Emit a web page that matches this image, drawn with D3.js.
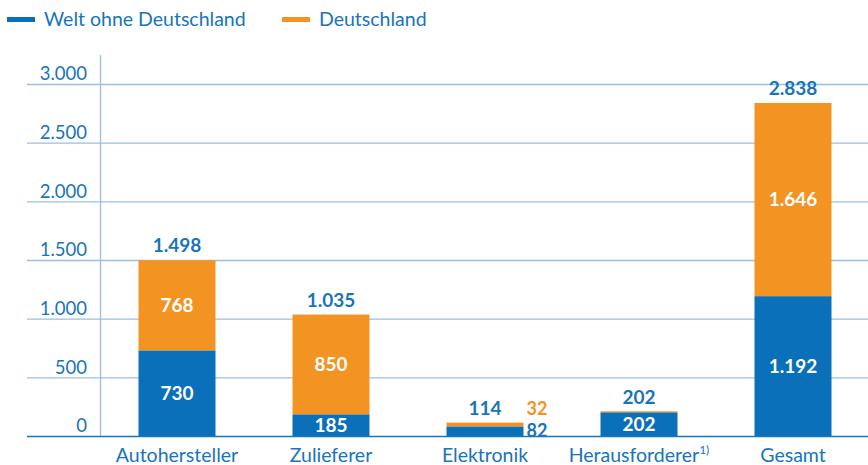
<!doctype html>
<html>
<head>
<meta charset="utf-8" />
<title>Welt ohne Deutschland / Deutschland</title>
<script src="https://cdn.jsdelivr.net/npm/d3@7"></script>
<style>
  body { margin: 0; background: #fff; }
  text { font-family: "Source Sans Pro", Lato, "Noto Sans", sans-serif; }
</style>
</head>
<body>
<div id="chart"></div>
<script>
// data
var categories = ['Autohersteller', 'Zulieferer', 'Elektronik', 'Herausforderer', 'Gesamt'];
var welt = [730, 185, 82, 202, 1192];
var deutschland = [768, 850, 32, 0, 1646];
var totals = [1498, 1035, 114, 202, 2838];
var yTicks = [0, 500, 1000, 1500, 2000, 2500, 3000];
var seriesNames = ['Welt ohne Deutschland', 'Deutschland'];

var blue = '#0a70b9', orange = '#f39322', textBlue = '#1874bb', grid = '#9cbde6';

var W = 868, H = 465;
var de = d3.formatLocale({decimal: ',', thousands: '.', grouping: [3], currency: ['', '€']});
var fmt = de.format(',d');

var svg = d3.select('#chart').append('svg')
    .attr('width', W).attr('height', H);

var x = d3.scaleBand().domain(categories).range([100, 870]).paddingInner(0.5).paddingOuter(0.25);
var y = d3.scaleLinear().domain([0, 3000]).range([436, 84]);

// gridlines + y labels
var yAxis = d3.axisLeft(y).tickValues(yTicks).tickFormat(fmt).tickSize(0);
var ga = svg.append('g').call(yAxis);
ga.select('.domain').remove();
ga.selectAll('text')
    .attr('x', 87).attr('dy', '-0.22em')
    .attr('text-anchor', 'end')
    .style('font-size', '18.5px').attr('fill', textBlue);
svg.selectAll('line.grid').data(yTicks.filter(function (d) { return d > 0; }))
  .enter().append('line').attr('class', 'grid')
    .attr('x1', 27).attr('x2', W)
    .attr('y1', function (d) { return y(d) + 0.5; })
    .attr('y2', function (d) { return y(d) + 0.5; })
    .attr('stroke', grid).attr('stroke-width', 1.3);
svg.append('line')
    .attr('x1', 100.5).attr('x2', 100.5).attr('y1', 55).attr('y2', y(0))
    .attr('stroke', grid).attr('stroke-width', 1.3);

// stacked bars
var stack = categories.map(function (c, i) { return {c: c, w: welt[i], d: deutschland[i], t: totals[i]}; });
var bars = svg.selectAll('g.bar').data(stack).enter().append('g').attr('class', 'bar');
bars.append('rect')
    .attr('x', function (d) { return x(d.c); })
    .attr('width', x.bandwidth())
    .attr('y', function (d) { return y(d.w); })
    .attr('height', function (d) { return y(0) - y(d.w); })
    .attr('fill', blue);
bars.append('rect')
    .attr('x', function (d) { return x(d.c); })
    .attr('width', x.bandwidth())
    .attr('y', function (d) { return y(d.w + d.d) - (d.d ? 0 : 1); })
    .attr('height', function (d) { return Math.max(1, y(d.w) - y(d.w + d.d)); })
    .attr('fill', orange);

// baseline
svg.append('line')
    .attr('x1', 27).attr('x2', W).attr('y1', y(0) + 0.5).attr('y2', y(0) + 0.5)
    .attr('stroke', '#1874bb').attr('stroke-width', 1.5);

var cx = function (d) { return x(d.c) + x.bandwidth() / 2; };
var numSize = '19px';

// totals above
bars.append('text')
    .attr('x', cx)
    .attr('y', function (d) { return y(d.t) - 8; })
    .attr('text-anchor', 'middle')
    .style('font-size', numSize).style('font-weight', 'bold')
    .attr('fill', textBlue)
    .text(function (d) { return fmt(d.t); });

// inner labels (only where segment is tall enough)
bars.filter(function (d) { return y(0) - y(d.w) > 16; }).append('text')
    .attr('x', cx)
    .attr('y', function (d) { return (y(0) + y(d.w)) / 2; })
    .attr('dy', '0.36em')
    .attr('text-anchor', 'middle')
    .style('font-size', numSize).style('font-weight', 'bold')
    .attr('fill', '#fff')
    .text(function (d) { return fmt(d.w); });
bars.filter(function (d) { return y(d.w) - y(d.w + d.d) > 16; }).append('text')
    .attr('x', cx)
    .attr('y', function (d) { return (y(d.w) + y(d.w + d.d)) / 2; })
    .attr('dy', '0.36em')
    .attr('text-anchor', 'middle')
    .style('font-size', numSize).style('font-weight', 'bold')
    .attr('fill', '#fff')
    .text(function (d) { return fmt(d.d); });

// small segments labelled beside the bar
var small = bars.filter(function (d) { return d.d > 0 && y(0) - y(d.w) <= 16; });
small.append('text')
    .attr('x', function (d) { return x(d.c) + x.bandwidth() + 3; })
    .attr('y', y(0) + 1)
    .style('font-size', '18px').style('font-weight', 'bold')
    .attr('fill', textBlue)
    .text(function (d) { return fmt(d.w); });
small.append('text')
    .attr('x', function (d) { return x(d.c) + x.bandwidth() + 3; })
    .attr('y', y(0) - 21)
    .style('font-size', '18px').style('font-weight', 'bold')
    .attr('fill', orange)
    .text(function (d) { return fmt(d.d); });

// category labels
var xl = svg.selectAll('text.cat').data(categories).enter().append('text')
    .attr('class', 'cat')
    .attr('x', function (d) { return x(d) + x.bandwidth() / 2; })
    .attr('y', 462)
    .attr('text-anchor', 'middle')
    .style('font-size', '19.5px')
    .attr('fill', textBlue)
    .text(function (d) { return d; });
xl.filter(function (d) { return d === 'Herausforderer'; })
  .append('tspan').attr('dy', -8).style('font-size', '12px').text('1)');

// legend
var leg = svg.selectAll('g.leg').data(seriesNames).enter().append('g')
    .attr('transform', function (d, i) { return 'translate(' + [7, 282][i] + ',0)'; });
leg.append('rect').attr('x', 0).attr('y', 17).attr('width', 28).attr('height', 5)
    .attr('fill', function (d, i) { return [blue, orange][i]; });
leg.append('text').attr('x', 37).attr('y', 26)
    .style('font-size', '19.5px').attr('fill', textBlue)
    .text(function (d) { return d; });
</script>
</body>
</html>
